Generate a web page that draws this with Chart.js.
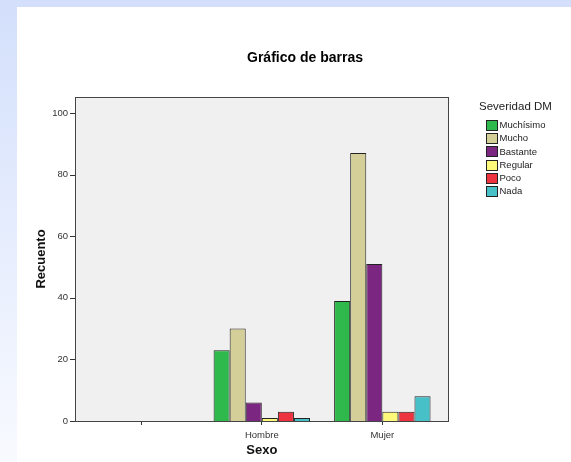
<!DOCTYPE html>
<html>
<head>
<meta charset="utf-8">
<script src="https://cdn.jsdelivr.net/npm/chart.js@4"></script>
<style>
	html, body { margin: 0; padding: 0; background: #fff; }
	#wrap { width: 571px; height: 462px; position: relative; }
</style>
</head>
<body>
<div id="wrap"><canvas id="barChart" width="571" height="462"></canvas></div>
<script>
// categories (first one is empty in the original SPSS chart)
const categories = ["", "Hombre", "Mujer"];
const severityLabels = ["Muchísimo", "Mucho", "Bastante", "Regular", "Poco", "Nada"];
const severityColors = ["#2fb84b", "#d4ce98", "#7b2680", "#fbf87a", "#ee3340", "#48c0c8"];

const muchisimo = [null, 23, 39];
const mucho = [null, 30, 87];
const bastante = [null, 6, 51];
const regular = [null, 1, 3];
const poco = [null, 3, 3];
const nada = [null, 1, 8];

const yTicks = [0, 20, 40, 60, 80, 100];

const FONT = "'Liberation Sans', Arial, sans-serif";

const seriesValues = [muchisimo, mucho, bastante, regular, poco, nada];

// page background, grey plot frame, y tick marks
const framePlugin = {
	id: "frame",
	beforeDraw(chart) {
		const ctx = chart.ctx;
		ctx.save();
		ctx.fillStyle = "#fff";
		ctx.fillRect(0, 0, chart.width, chart.height);
		ctx.fillStyle = "#d4e0fb";
		ctx.fillRect(0, 0, chart.width, 7);
		const g = ctx.createLinearGradient(0, 0, 0, chart.height);
		g.addColorStop(0, "#d3dffb");
		g.addColorStop(1, "#f8faff");
		ctx.fillStyle = g;
		ctx.fillRect(0, 7, 17, chart.height - 7);

		// title
		ctx.fillStyle = "#000";
		ctx.font = "bold 14px " + FONT;
		ctx.textAlign = "center";
		ctx.textBaseline = "middle";
		ctx.fillText("Gráfico de barras", 305, 58);
		ctx.restore();
	},
	beforeDatasetsDraw(chart) {
		const ctx = chart.ctx;
		const a = chart.chartArea;
		const left = a.left - 6, right = a.right + 5.5;
		ctx.save();
		ctx.fillStyle = "#f0f0f0";
		ctx.fillRect(left, a.top, right - left, a.bottom - a.top);
		ctx.strokeStyle = "#444";
		ctx.lineWidth = 1;
		ctx.strokeRect(Math.round(left) + 0.5, Math.round(a.top) + 0.5, Math.round(right - left), Math.round(a.bottom - a.top));
		const y = chart.scales.y;
		ctx.strokeStyle = "#333";
		yTicks.forEach(t => {
			const py = Math.round(y.getPixelForValue(t)) + 0.5;
			ctx.beginPath();
			ctx.moveTo(Math.round(left) - 5, py);
			ctx.lineTo(Math.round(left), py);
			ctx.stroke();
		});
		ctx.restore();
	},
	afterDraw(chart) {
		const ctx = chart.ctx;
		ctx.save();
		ctx.fillStyle = "#222";
		ctx.font = "11.5px " + FONT;
		ctx.textAlign = "left";
		ctx.textBaseline = "middle";
		ctx.fillText("Severidad DM", 479, 107);
		ctx.font = "9.5px " + FONT;
		chart.data.datasets.forEach((ds, i) => {
			const cy = 125 + i * 13.2;
			ctx.fillStyle = ds.backgroundColor;
			ctx.fillRect(486.5, Math.round(cy - 5) + 0.5, 11, 10);
			ctx.strokeStyle = "#222";
			ctx.strokeRect(486.5, Math.round(cy - 5) + 0.5, 11, 10);
			ctx.fillStyle = "#222";
			ctx.fillText(ds.label, 499.5, cy + 0.5);
		});
		ctx.restore();
	}
};

const ctx = document.getElementById("barChart").getContext("2d");
new Chart(ctx, {
	type: "bar",
	data: {
		labels: categories,
		datasets: severityLabels.map((label, i) => ({
			label: label,
			data: seriesValues[i],
			backgroundColor: severityColors[i],
			borderColor: "#222",
			borderWidth: 1,
			categoryPercentage: 0.8,
			barPercentage: 1.0
		}))
	},
	options: {
		responsive: false,
		animation: false,
		devicePixelRatio: 1,
		layout: {
			padding: { top: 97, right: 128.4, bottom: 0, left: 0 }
		},
		plugins: {
			legend: { display: false },
			tooltip: { enabled: false }
		},
		scales: {
			x: {
				offset: true,
				grid: {
					offset: false,
					drawOnChartArea: false,
					drawTicks: true,
					tickLength: 4,
					color: "#333"
				},
				border: { display: false },
				ticks: {
					padding: 5,
					color: "#333",
					font: { family: FONT, size: 9.5 }
				},
				title: {
					display: true,
					text: "Sexo",
					color: "#111",
					font: { family: FONT, size: 13, weight: "bold" },
					padding: { top: 0, bottom: 4 }
				},
				afterFit(scale) {
					scale.height = 41;
				}
			},
			y: {
				min: 0,
				max: 105.2,
				grid: { display: false, drawTicks: false },
				border: { display: false },
				ticks: {
					padding: 13,
					color: "#333",
					font: { family: FONT, size: 9.5 }
				},
				afterBuildTicks(scale) {
					scale.ticks = yTicks.map(v => ({ value: v }));
				},
				title: {
					display: true,
					text: "Recuento",
					color: "#111",
					font: { family: FONT, size: 13, weight: "bold" },
					padding: { top: 34, bottom: 0 }
				},
				afterFit(scale) {
					scale.width = 81;
				}
			}
		}
	},
	plugins: [framePlugin]
});
</script>
</body>
</html>
